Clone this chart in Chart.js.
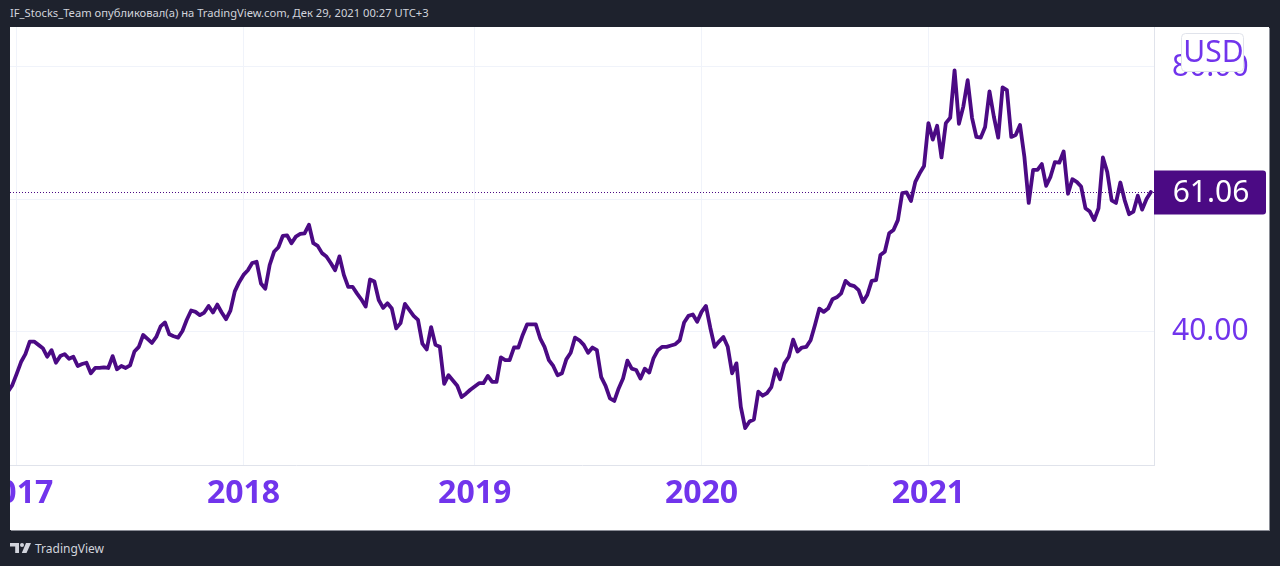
<!DOCTYPE html>
<html>
<head>
<meta charset="utf-8">
<script src="https://cdn.jsdelivr.net/npm/chart.js@4.4.1/dist/chart.umd.min.js"></script>
<style>
  html, body { margin: 0; padding: 0; }
  body { width: 1280px; height: 566px; background: #1e222d; position: relative; overflow: hidden; font-family: "Noto Sans", sans-serif; }
  #hdr { position: absolute; left: 10px; top: 5px; font-size: 11.2px; color: #d1d4dc; white-space: nowrap; }
  #panel { position: absolute; left: 10px; top: 27px; width: 1259px; height: 503px; background: #ffffff; box-shadow: 1px 1px 0 #8a8d96; }
  #ftr { position: absolute; left: 10px; top: 540px; height: 16px; display: flex; align-items: center; color: #d1d4dc; font-size: 12px; }
  #ftr svg { margin-right: 3px; }
</style>
</head>
<body>
<div id="hdr">IF_Stocks_Team опубликовал(а) на TradingView.com, Дек 29, 2021 00:27 UTC+3</div>
<div id="panel"><canvas id="c" width="1259" height="503"></canvas></div>
<div id="ftr"><svg width="22" height="12" viewBox="0 0 22 12"><path d="M0 1 H9 V11 H5.2 V4.6 H0 Z" fill="#d1d4dc"/><circle cx="12" cy="3" r="2" fill="#d1d4dc"/><path d="M16 1 H21 L16.5 11 H11.8 Z" fill="#d1d4dc"/></svg><span>TradingView</span></div>
<script>
// ---- data (weekly closes, USD) ----
const firstWeek = '2016-12-19';
const closes = [30.8, 31.8, 33.5, 35.3, 36.5, 38.4, 38.4, 37.9, 37.4, 36.1, 37.1, 35.2, 36.2, 36.5, 35.8, 36.1, 34.7, 35.0, 35.2, 33.6,
  34.4, 34.4, 34.5, 34.4, 36.2, 34.2, 34.7, 34.4, 34.8, 36.9, 37.6, 39.4, 38.8, 38.2, 39.1, 40.7, 41.3, 39.5, 39.2, 39.0,
  40.0, 41.7, 43.1, 42.9, 42.4, 42.8, 43.8, 42.8, 44.0, 42.8, 41.8, 43.1, 46.0, 47.4, 48.5, 49.2, 50.3, 50.5, 47.2, 46.4,
  50.0, 52.0, 52.7, 54.4, 54.5, 53.3, 54.3, 54.7, 54.8, 56.1, 53.3, 52.9, 51.8, 51.3, 50.3, 49.2, 51.3, 48.5, 46.7, 46.7,
  45.7, 44.8, 43.7, 47.8, 47.5, 44.7, 43.5, 44.2, 43.4, 40.4, 41.2, 44.1, 43.2, 42.3, 41.7, 38.1, 37.2, 40.6, 37.9, 37.6,
  32.0, 33.3, 32.5, 31.7, 30.0, 30.5, 31.1, 31.6, 32.1, 32.1, 33.2, 32.3, 32.3, 36.0, 35.6, 35.6, 37.5, 37.5, 39.4, 41.0,
  41.0, 41.0, 38.9, 37.6, 35.6, 34.7, 33.3, 33.6, 35.7, 36.7, 39.0, 38.6, 37.9, 36.7, 37.5, 37.1, 33.0, 31.7, 29.8, 29.4,
  31.3, 32.8, 35.5, 34.3, 34.1, 32.8, 34.3, 33.7, 35.9, 37.1, 37.6, 37.6, 37.8, 38.0, 38.6, 41.3, 42.3, 42.5, 41.4, 42.9,
  43.8, 40.5, 37.6, 38.4, 39.1, 37.6, 33.6, 35.1, 28.5, 25.3, 26.3, 26.6, 30.8, 30.2, 30.6, 31.5, 34.2, 32.7, 35.1, 36.1,
  38.7, 36.9, 37.5, 37.6, 38.6, 40.9, 43.4, 42.9, 43.4, 44.8, 45.1, 45.7, 47.6, 47.0, 46.8, 46.2, 44.4, 45.5, 47.6, 47.7,
  51.5, 52.0, 54.8, 55.3, 56.8, 60.9, 61.0, 59.7, 62.6, 63.9, 65.0, 71.5, 69.0, 71.1, 66.3, 71.5, 72.3, 79.5, 71.4, 74.0,
  78.0, 72.3, 69.4, 69.3, 70.9, 76.3, 72.5, 69.3, 76.9, 76.5, 69.4, 69.7, 71.2, 66.4, 59.4, 64.4, 64.4, 65.3, 62.0, 63.4,
  65.6, 65.5, 67.2, 60.8, 63.0, 62.6, 61.9, 58.6, 58.1, 56.8, 58.6, 66.3, 64.1, 59.8, 59.4, 62.5, 59.8, 57.7, 58.1, 60.5,
  58.4, 60.0, 61.06];
const yearTickDates = ['2017-01-02', '2018-01-01', '2019-01-07', '2020-01-06', '2021-01-04'];
const yearTickLabels = ['2017', '2018', '2019', '2020', '2021'];
const priceTicks = [40, 60, 80];
const lastPrice = 61.06;
const currency = 'USD';
const viewStart = '2016-12-22T07:30:00Z';
const viewEnd = '2022-01-01T00:00:00Z';
const priceMin = 19.70, priceMax = 86.06;

// ---- styles ----
const LINE = '#4b0a84';
const LABEL = '#7134ec';
const DAY = 86400000;

const t0 = Date.parse(firstWeek + 'T00:00:00Z');
const points = closes.map((v, i) => ({ x: t0 + i * 7 * DAY, y: v }));
const dayMs = d => Date.parse(d + 'T00:00:00Z');

const overlay = {
  id: 'overlay',
  afterDraw(chart) {
    const ctx = chart.ctx, a = chart.chartArea, ys = chart.scales.y;
    const y = Math.round(ys.getPixelForValue(lastPrice)) + 0.5;
    ctx.save();
    // dotted last-price line
    ctx.strokeStyle = LINE; ctx.lineWidth = 1; ctx.setLineDash([1, 2]);
    ctx.beginPath(); ctx.moveTo(a.left, y); ctx.lineTo(a.right, y); ctx.stroke();
    ctx.setLineDash([]);
    // last price label
    const bx = ys.left, bw = 112, bh = 44;
    ctx.fillStyle = LINE;
    ctx.beginPath(); ctx.roundRect(bx, y - bh / 2, bw, bh, [0, 3, 3, 0]); ctx.fill();
    ctx.fillStyle = '#ffffff';
    ctx.font = '30px "Noto Sans"'; ctx.textAlign = 'center'; ctx.textBaseline = 'middle';
    ctx.fillText(lastPrice.toFixed(2), bx + bw / 2 + 1, y + 1);
    // currency badge
    const cx = ys.left + 27, cy = 6, cw = 62, ch = 38;
    ctx.fillStyle = '#ffffff'; ctx.strokeStyle = '#e0e3eb'; ctx.lineWidth = 1;
    ctx.beginPath(); ctx.roundRect(cx + 0.5, cy + 0.5, cw, ch, 4); ctx.fill(); ctx.stroke();
    ctx.fillStyle = LABEL; ctx.font = '30px "Noto Sans"';
    ctx.fillText(currency, cx + cw / 2 + 1.5, cy + ch / 2 + 1);
    ctx.restore();
  }
};

new Chart(document.getElementById('c'), {
  type: 'line',
  data: { datasets: [{ data: points, borderColor: LINE, borderWidth: 3.8, pointRadius: 0,
    borderJoinStyle: 'round', borderCapStyle: 'round', tension: 0, fill: false }] },
  options: {
    responsive: false, animation: false, events: [],
    layout: { padding: 0 },
    plugins: { legend: { display: false }, tooltip: { enabled: false } },
    scales: {
      x: {
        type: 'linear', position: 'bottom',
        min: Date.parse(viewStart), max: Date.parse(viewEnd),
        afterBuildTicks: s => { s.ticks = yearTickDates.map(d => ({ value: dayMs(d) })); },
        afterFit: s => { s.height = 65; s.paddingLeft = 0; s.paddingRight = 0; },
        ticks: { autoSkip: false, maxRotation: 0, padding: 10, color: LABEL,
          font: { family: 'Noto Sans', size: 32, weight: 'bold' },
          callback: (v, i) => yearTickLabels[i] },
        grid: { color: '#f0f3fa', drawTicks: false, lineWidth: 1 },
        border: { color: '#e0e3eb' }
      },
      y: {
        type: 'linear', position: 'right', min: priceMin, max: priceMax,
        afterBuildTicks: s => { s.ticks = priceTicks.map(v => ({ value: v })); },
        afterFit: s => { s.width = 115; s.paddingTop = 0; s.paddingBottom = 0; },
        ticks: { padding: 18, color: LABEL, font: { family: 'Noto Sans', size: 30 },
          callback: v => v.toFixed(2) },
        grid: { color: '#f0f3fa', drawTicks: false, lineWidth: 1 },
        border: { color: '#e0e3eb' }
      }
    }
  },
  plugins: [overlay]
});
</script>
</body>
</html>
